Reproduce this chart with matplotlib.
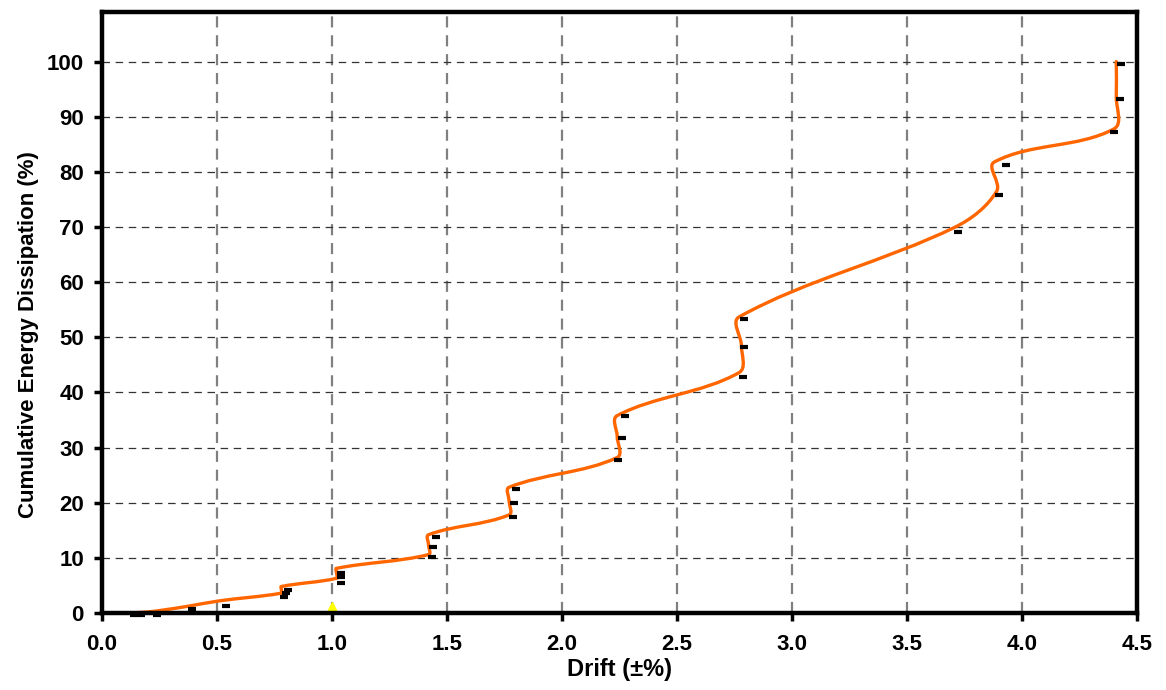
import numpy as np
import matplotlib.pyplot as plt
from matplotlib.path import Path
from matplotlib.patches import PathPatch

plt.rcParams['font.family'] = ['Liberation Sans', 'DejaVu Sans']
plt.rcParams['font.weight'] = 'bold'

# orange (smoothed) curve points
curve_x = [0.12, 0.20, 0.26, 0.37, 0.51, 0.78, 0.78, 0.78, 1.02, 1.02, 1.02,
           1.42, 1.42, 1.42, 1.77, 1.77, 1.77, 2.24, 2.24, 2.24,
           2.77, 2.78, 2.77, 3.71, 3.89, 3.88, 4.40, 4.41, 4.41]
curve_y = [0.0, 0.2, 0.5, 1.2, 2.2, 3.6, 4.2, 4.8, 6.3, 7.2, 8.1,
           10.6, 12.3, 14.2, 17.8, 20.3, 22.8, 28.2, 32.0, 35.8,
           43.6, 48.5, 53.7, 70.0, 76.5, 81.8, 87.8, 93.6, 100.0]

# black dash markers
mark_x = [0.14, 0.17, 0.24, 0.39, 0.54, 0.79, 0.80, 0.81, 1.04, 1.04, 1.04,
          1.435, 1.44, 1.45, 1.785, 1.79, 1.80, 2.245, 2.26, 2.275,
          2.785, 2.79, 2.79, 3.72, 3.90, 3.93, 4.40, 4.425, 4.43]
mark_y = [-0.4, -0.4, -0.3, 0.7, 1.3, 2.9, 3.6, 4.1, 5.5, 6.5, 7.3,
          10.1, 12.0, 13.7, 17.4, 20.0, 22.4, 27.8, 31.8, 35.7,
          42.8, 48.3, 53.4, 69.1, 75.9, 81.2, 87.3, 93.3, 99.5]

# yellow triangle
tri_x = [1.0]
tri_y = [0.9]


def smooth_path(xs, ys, sx=41.9):
    # smoothed line: bezier segments, tangent along neighbours,
    # handle length tied to the segment length (x scaled to look like pixels)
    p = np.column_stack([np.asarray(xs, float) * sx, ys]).astype(float)
    n = len(p)
    d = np.zeros_like(p)
    for i in range(n):
        a = p[max(i - 1, 0)]
        b = p[min(i + 1, n - 1)]
        v = b - a
        d[i] = v / np.hypot(*v)
    verts = [p[0]]
    codes = [Path.MOVETO]
    for i in range(n - 1):
        L = np.hypot(*(p[i + 1] - p[i]))
        verts += [p[i] + d[i] * L / 3, p[i + 1] - d[i + 1] * L / 3, p[i + 1]]
        codes += [Path.CURVE4] * 3
    verts = np.array(verts)
    verts[:, 0] /= sx
    return Path(verts, codes)


fig = plt.figure(figsize=(11.66, 6.9), dpi=100)
ax = fig.add_axes([0.0875, 0.1116, 0.8876, 0.8710])

ax.add_patch(PathPatch(smooth_path(curve_x, curve_y), fc='none',
                       ec='#FF6600', lw=2.4, zorder=3, capstyle='round'))
ax.plot(mark_x, mark_y, ls='none', marker='_', ms=6, mew=3, color='black',
        zorder=4, clip_on=False)
ax.plot(tri_x, tri_y, ls='none', marker='^', ms=8, color='#FFFF00', zorder=2)

ax.set_xlim(0, 4.5)
ax.set_ylim(0, 109)
ax.set_xticks(np.arange(0, 4.51, 0.5))
ax.set_yticks(np.arange(0, 101, 10))
ax.set_xticklabels([f'{v:.1f}' for v in np.arange(0, 4.51, 0.5)])

ax.xaxis.grid(True, color='#808080', lw=1.6, ls=(0, (5, 3.5)))
ax.yaxis.grid(True, color='#333333', lw=0.9, ls=(0, (6, 4.5)))
ax.set_axisbelow(True)

for s in ax.spines.values():
    s.set_linewidth(3.2)
    s.set_zorder(5)

ax.tick_params(axis='both', direction='out', length=6, width=2.5, labelsize=16)
ax.tick_params(axis='x', pad=9)
ax.tick_params(axis='y', pad=7)

ax.set_xlabel('Drift (±%)', fontsize=17, fontweight='bold', labelpad=2)
ax.set_ylabel('Cumulative Energy Dissipation (%)', fontsize=16, fontweight='bold')
ax.yaxis.set_label_coords(-0.061, 0.463)

plt.savefig('out.png', dpi=100)
